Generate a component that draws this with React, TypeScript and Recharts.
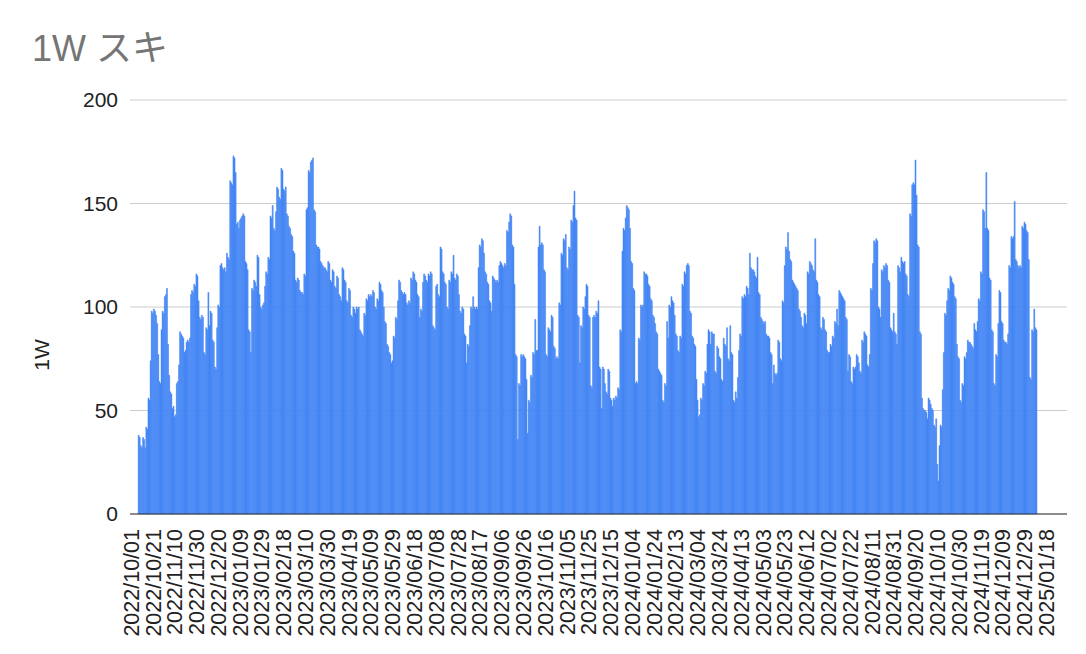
import React from "react";
import { BarChart, Bar, XAxis, YAxis, CartesianGrid } from "recharts";

const FONT = "Arial, 'Liberation Sans', 'Noto Sans CJK JP', sans-serif";
const BLUE = "#4285F4";

const TITLE = "1W スキ";
const Y_LABEL = "1W";
const Y_TICKS = [0, 50, 100, 150, 200];

// one label every 20 days, starting at the first day of data
const TICK_LABELS = [
  "2022/10/01", "2022/10/21", "2022/11/10", "2022/11/30", "2022/12/20",
  "2023/01/09", "2023/01/29", "2023/02/18", "2023/03/10", "2023/03/30",
  "2023/04/19", "2023/05/09", "2023/05/29", "2023/06/18", "2023/07/08",
  "2023/07/28", "2023/08/17", "2023/09/06", "2023/09/26", "2023/10/16",
  "2023/11/05", "2023/11/25", "2023/12/15", "2024/01/04", "2024/01/24",
  "2024/02/13", "2024/03/04", "2024/03/24", "2024/04/13", "2024/05/03",
  "2024/05/23", "2024/06/12", "2024/07/02", "2024/07/22", "2024/08/11",
  "2024/08/31", "2024/09/20", "2024/10/10", "2024/10/30", "2024/11/19",
  "2024/12/09", "2024/12/29", "2025/01/18",
];
const TICK_STEP = 20;

// daily values in chunks
const likes1 = [
  38, 37, 33, 32, 37, 36, 32, 42, 41, 56,
  55, 74, 98, 97, 99, 98, 96, 92, 77, 64,
  63, 89, 98, 97, 105, 106, 109, 82, 67, 59,
  58, 51, 52, 47, 48, 63, 64, 72, 88, 87,
  86, 85, 78, 79, 83, 84, 83, 85, 106, 108,
  107, 111, 110, 116, 115, 103, 95, 94, 96, 95,
  78, 77, 90, 89, 107, 91, 98, 97, 84, 83,
  71, 70, 90, 101, 100, 120, 121, 119, 118, 119,
  117, 126, 124, 123, 161, 160, 159, 173, 172, 165,
];
const likes2 = [
  140, 141, 138, 142, 143, 144, 145, 144, 122, 121,
  118, 89, 88, 78, 109, 108, 113, 112, 110, 125,
  124, 106, 100, 99, 101, 102, 110, 117, 116, 124,
  123, 144, 143, 149, 138, 137, 146, 158, 157, 153,
  152, 167, 166, 157, 156, 158, 145, 144, 139, 138,
  135, 134, 127, 126, 113, 112, 114, 113, 108, 107,
  107, 106, 116, 115, 147, 148, 166, 165, 170, 171,
  172, 147, 146, 130, 129, 129, 128, 122, 121, 120,
  119, 119, 118, 117, 122, 121, 113, 112, 118, 117,
  110, 109,
];
const likes3 = [
  115, 114, 106, 105, 103, 119, 118, 113, 112, 103,
  102, 109, 108, 96, 95, 100, 99, 97, 100, 99,
  100, 89, 88, 87, 86, 97, 96, 104, 103, 106,
  105, 106, 105, 108, 107, 100, 99, 104, 103, 112,
  111, 108, 107, 100, 93, 92, 82, 81, 78, 77,
  73, 74, 86, 85, 95, 94, 103, 113, 112, 108,
  107, 106, 107, 106, 102, 101, 103, 102, 114, 113,
  117, 116, 113, 112, 106, 105, 95, 99, 98, 112,
  116, 115, 113, 112, 116, 115, 117, 116, 91, 90,
  89, 110,
];
const likes4 = [
  111, 106, 105, 129, 128, 117, 116, 112, 111, 100,
  99, 113, 112, 117, 116, 125, 114, 113, 116, 115,
  106, 98, 97, 100, 99, 87, 86, 73, 82, 81,
  91, 100, 99, 105, 100, 99, 100, 99, 119, 130,
  129, 133, 132, 126, 117, 116, 112, 111, 103, 102,
  98, 115, 114, 113, 112, 113, 112, 120, 122, 121,
  120, 119, 121, 120, 137, 136, 141, 145, 144, 130,
  129, 111, 77, 76, 36, 63, 62, 77, 76, 77,
  76, 75, 65, 39, 55, 54, 67, 66, 78, 77,
  94, 79,
];
const likes5 = [
  79, 129, 139, 130, 131, 130, 118, 117, 77, 76,
  90, 89, 88, 96, 95, 81, 80, 75, 76, 75,
  102, 101, 126, 125, 133, 132, 135, 119, 118, 129,
  128, 142, 141, 149, 156, 143, 142, 96, 95, 73,
  91, 90, 100, 99, 105, 111, 110, 96, 95, 62,
  61, 95, 96, 95, 98, 97, 103, 71, 70, 51,
  71, 70, 63, 59, 58, 70, 69, 56, 55, 52,
  56, 55, 57, 56, 61, 60, 89, 88, 127, 138,
  137, 143, 149, 148, 147, 138, 122, 121, 109, 108,
  63,
];
const likes6 = [
  64, 63, 85, 84, 101, 100, 101, 117, 116, 116,
  115, 111, 110, 104, 103, 96, 95, 92, 88, 87,
  70, 69, 68, 67, 55, 54, 63, 62, 93, 85,
  101, 100, 105, 103, 102, 96, 87, 86, 79, 78,
  86, 85, 111, 110, 117, 116, 120, 121, 120, 98,
  97, 86, 85, 82, 81, 65, 55, 47, 48, 56,
  55, 63, 62, 69, 68, 82, 89, 88, 82, 88,
  87, 87, 69, 68, 81, 80, 76, 75, 65, 64,
  85, 82, 81, 90, 75, 74, 91, 78, 77, 55,
  54, 59,
];
const likes7 = [
  56, 66, 79, 87, 86, 105, 104, 106, 105, 110,
  109, 106, 126, 119, 118, 118, 117, 115, 114, 124,
  107, 106, 95, 94, 93, 92, 93, 87, 86, 86,
  85, 78, 77, 63, 72, 68, 67, 68, 84, 83,
  75, 74, 103, 102, 120, 129, 128, 136, 127, 123,
  122, 113, 112, 111, 110, 109, 108, 99, 98, 95,
  91, 90, 97, 96, 92, 117, 116, 122, 121, 120,
  118, 117, 133, 113, 112, 106, 105, 90, 89, 95,
  94, 89, 88, 79, 78, 78, 82, 81, 86, 85,
  93, 92,
];
const likes8 = [
  99, 91, 108, 107, 106, 105, 104, 103, 95, 94,
  69, 77, 76, 64, 63, 71, 70, 71, 77, 76,
  73, 69, 68, 84, 83, 88, 87, 86, 72, 71,
  77, 109, 108, 121, 132, 131, 133, 132, 100, 99,
  95, 118, 117, 120, 119, 121, 120, 113, 112, 90,
  89, 88, 97, 88, 87, 82, 120, 119, 117, 124,
  122, 121, 122, 116, 115, 106, 105, 145, 144, 159,
  160, 159, 171, 154, 130, 129, 88, 87, 56, 51,
  50, 50, 49, 46, 56, 55, 53, 51, 50, 43,
  42, 46,
];
const likes9 = [
  24, 16, 33, 43, 42, 60, 78, 97, 96, 103,
  109, 108, 115, 114, 112, 111, 105, 104, 82, 76,
  75, 55, 54, 63, 62, 76, 75, 78, 84, 83,
  83, 82, 81, 80, 92, 89, 88, 93, 104, 103,
  117, 116, 147, 146, 138, 165, 138, 137, 114, 113,
  89, 88, 63, 62, 77, 76, 92, 108, 107, 93,
  92, 84, 83, 83, 82, 87, 120, 119, 134, 133,
  134, 151, 123, 122, 120, 119, 120, 119, 139, 138,
  141, 140, 137, 136, 123, 66, 65, 89, 88, 99,
  90, 89,
];

const LIKES = [
  ...likes1, ...likes2, ...likes3, ...likes4, ...likes5,
  ...likes6, ...likes7, ...likes8, ...likes9,
];

const rows = LIKES.map((value, day) => ({ day, value }));
const xTicks = TICK_LABELS.map((_, i) => i * TICK_STEP);

function DateTick(props: any) {
  const { x, y, payload } = props;
  const label = TICK_LABELS[Math.round(payload.value / TICK_STEP)];
  const ty = y + 13;
  return (
    <text
      x={x}
      y={ty}
      transform={`rotate(-90, ${x}, ${ty})`}
      textAnchor="end"
      fontSize={21.5}
      fill="#222"
      fontFamily={FONT}
    >
      {label}
    </text>
  );
}

export default function App() {
  return (
    <div
      style={{
        position: "absolute",
        left: 0,
        top: 0,
        width: 1086,
        height: 654,
        background: "#fff",
        fontFamily: FONT,
      }}
    >
      <div
        style={{
          position: "absolute",
          left: 32,
          top: 31,
          fontSize: 36,
          lineHeight: "36px",
          color: "#757575",
          whiteSpace: "nowrap",
        }}
      >
        {TITLE}
      </div>
      <div
        style={{
          position: "absolute",
          left: 41,
          top: 355,
          fontSize: 21,
          lineHeight: 1,
          color: "#222",
          transform: "translate(-50%, -50%) rotate(-90deg)",
          whiteSpace: "nowrap",
        }}
      >
        {Y_LABEL}
      </div>

      <BarChart
        width={1086}
        height={654}
        data={rows}
        margin={{ top: 100, right: 19, bottom: 0, left: 0 }}
        barCategoryGap={0}
        barGap={0}
      >
        <CartesianGrid vertical={false} stroke="#cccccc" />
        <YAxis
          width={130}
          domain={[0, 200]}
          ticks={Y_TICKS}
          axisLine={false}
          tickLine={false}
          tickSize={0}
          tickMargin={12}
          tick={{ fill: "#222", fontSize: 21 }}
        />
        <XAxis
          dataKey="day"
          type="number"
          domain={[-8, 852]}
          ticks={xTicks}
          interval={0}
          height={140}
          tickSize={0}
          tickLine={false}
          axisLine={{ stroke: "#333" }}
          tick={(p: any) => <DateTick {...p} />}
        />
        <Bar
          dataKey="value"
          fill={BLUE}
          stroke={BLUE}
          strokeWidth={0.5}
          isAnimationActive={false}
        />
      </BarChart>
    </div>
  );
}
